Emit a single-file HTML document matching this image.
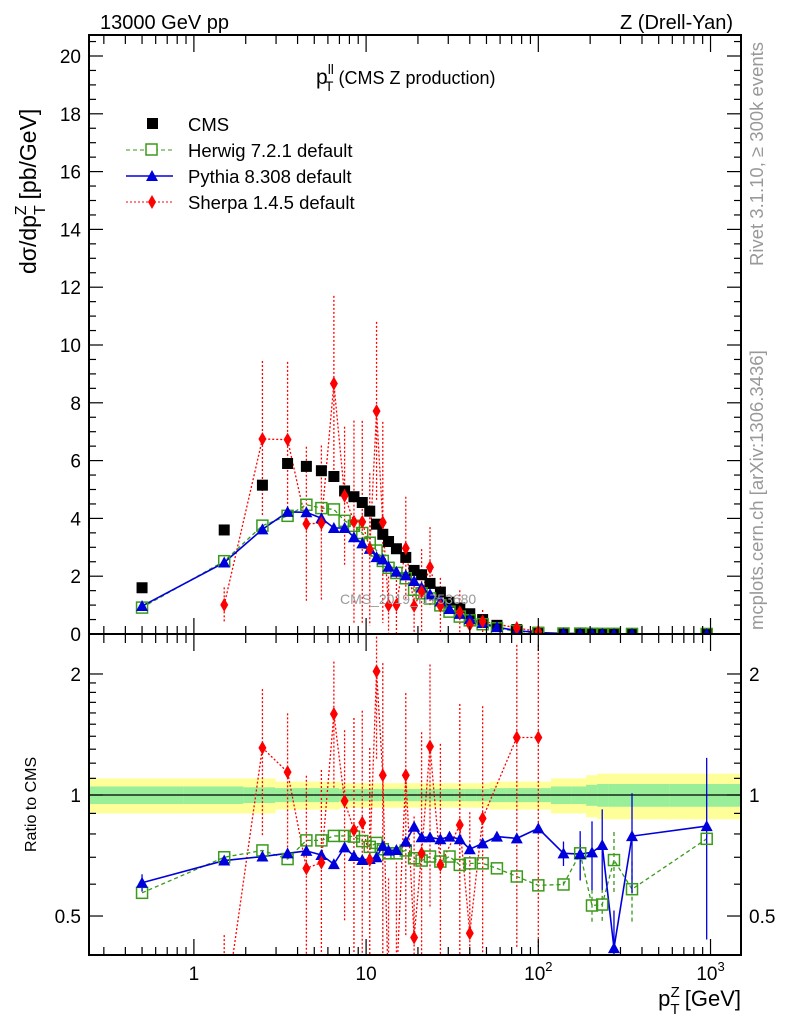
<!DOCTYPE html>
<html><head><meta charset="utf-8"><style>
html,body{margin:0;padding:0;background:#fff;width:786px;height:1024px;overflow:hidden;}
svg{display:block;font-family:"Liberation Sans",Arial,sans-serif;}
</style></head><body>
<svg id="plot" width="786" height="1024" viewBox="0 0 786 1024" xmlns="http://www.w3.org/2000/svg">
<defs>
<clipPath id="cMain"><rect x="89" y="35" width="652" height="599"/></clipPath>
<clipPath id="cRat"><rect x="89" y="634" width="652" height="321"/></clipPath>
</defs>
<g id="bands" clip-path="url(#cRat)"></g>
<g id="marks"></g>
<rect x="89" y="35" width="652" height="599" fill="none" stroke="#000" stroke-width="2"/>
<rect x="89" y="634" width="652" height="321" fill="none" stroke="#000" stroke-width="2"/>
<g id="ticks" stroke="#000" stroke-width="1.2"></g>
<g id="labels" font-size="19"></g>
<text x="100" y="29" font-size="20">13000 GeV pp</text>
<text x="733" y="29" font-size="20" text-anchor="end">Z (Drell-Yan)</text>
<text x="316" y="84" font-size="21">p<tspan font-size="14" dy="-10">ll</tspan><tspan font-size="14" dx="-9" dy="17">T</tspan><tspan font-size="18" dy="-7" dx="5">(CMS Z production)</tspan></text>
<text x="340" y="604" font-size="14" fill="#999">CMS_2019_I1753680</text>
<text transform="translate(36,274) rotate(-90)" font-size="23">dσ/dp<tspan font-size="16" dy="9">T</tspan><tspan font-size="16" dy="-19" dx="-10">Z</tspan><tspan dy="10" dx="6">[pb/GeV]</tspan></text>
<text transform="translate(36,852) rotate(-90)" font-size="16">Ratio to CMS</text>
<text transform="translate(763,266) rotate(-90)" font-size="18.5" fill="#999">Rivet 3.1.10, ≥ 300k events</text>
<text transform="translate(763,630) rotate(-90)" font-size="18.5" fill="#999">mcplots.cern.ch [arXiv:1306.3436]</text>
<text x="741" y="1006" font-size="22" text-anchor="end">p<tspan font-size="15" dy="8">T</tspan><tspan font-size="15" dy="-17" dx="-9">Z</tspan><tspan dy="9" dx="5">[GeV]</tspan></text>
<g id="legend" font-size="18.5">
<g><rect x="147" y="118" width="11" height="11" fill="#000"/><text x="188" y="131">CMS</text></g>
<g><line x1="126" x2="173" y1="150" y2="150" stroke="#3a9a1a" stroke-dasharray="4,3"/><rect x="146" y="144" width="11" height="11" fill="#fff" stroke="#3a9a1a" stroke-width="1.5"/><text x="188" y="157">Herwig 7.2.1 default</text></g>
<g><line x1="126" x2="173" y1="176" y2="176" stroke="#0000dd" stroke-width="1.5"/><polygon points="152,170 158,181 146,181" fill="#0000dd"/><text x="188" y="183">Pythia 8.308 default</text></g>
<g><line x1="126" x2="173" y1="202" y2="202" stroke="#f00" stroke-dasharray="2,2"/><polygon points="152,195 156,202 152,209 148,202" fill="#f00"/><text x="188" y="209">Sherpa 1.4.5 default</text></g>
</g>
</svg>
<script>
const bins=[0.5,1.5,2.5,3.5,4.5,5.5,6.5,7.5,8.5,9.5,10.5,11.5,12.5,13.5,15,17,19,21,23.5,27,30.5,35,40,47.5,57.5,75,100,140,175,205,235,275,350,950];
const cmsVals=[1.6,3.6,5.15,5.9,5.8,5.65,5.45,4.95,4.75,4.55,4.25,3.8,3.45,3.2,2.95,2.65,2.2,2.05,1.75,1.45,1.1,0.9,0.7,0.5,0.3,0.15,0.06,0.03,0.02,0.015,0.01,0.008,0.005,0.001];
const herwigRatio=[0.571,0.700,0.728,0.693,0.771,0.771,0.791,0.791,0.788,0.768,0.743,0.760,0.733,0.716,0.716,0.728,0.696,0.687,0.703,0.683,0.703,0.670,0.676,0.676,0.657,0.627,0.596,0.599,0.716,0.531,0.534,0.689,0.583,0.778];
const herwigErr=[0,0,0,0,0,0,0,0,0,0,0,0,0,0,0,0,0,0,0,0,0,0,0,0,0,0,0,0.01,0.04,0.05,0.05,0.12,0.1,0.02];
const pythiaRatio=[0.605,0.687,0.703,0.716,0.726,0.709,0.673,0.741,0.705,0.689,0.693,0.700,0.747,0.727,0.730,0.765,0.834,0.785,0.785,0.776,0.788,0.776,0.733,0.758,0.788,0.780,0.826,0.716,0.713,0.720,0.751,0.416,0.790,0.837];
const pythiaErr=[0.03,0.01,0.01,0.01,0.01,0.01,0.01,0.01,0.01,0.01,0.01,0.01,0.01,0.01,0.01,0.01,0.01,0.01,0.01,0.01,0.01,0.01,0.01,0.01,0.01,0.01,0.02,0.05,0.1,0.14,0.17,0.1,0.22,0.4];
const sherpaRatio=[null,0.28,1.31,1.14,0.657,0.679,1.59,0.966,0.818,0.853,0.689,2.03,1.12,0.31,0.34,1.12,0.442,0.716,1.32,0.67,null,0.842,0.453,0.875,null,1.39,1.39,null,null,null,null,null,null,null];
const sherpaRelErr=[0,0.6,0.4,0.4,0.7,0.7,0.35,0.5,0.9,0.9,0.9,0.4,0.9,1,1,0.6,1,1,0.6,1,0,1,1,0.9,0,0.7,0.7,0,0,0,0,0,0,0];
const bandTot=[0.10,0.10,0.10,0.08,0.08,0.08,0.08,0.07,0.07,0.07,0.07,0.07,0.07,0.07,0.07,0.07,0.07,0.07,0.07,0.07,0.07,0.07,0.07,0.07,0.08,0.08,0.08,0.10,0.10,0.12,0.13,0.13,0.13,0.13];
const bandStat=[0.05,0.05,0.045,0.04,0.04,0.04,0.04,0.035,0.035,0.035,0.035,0.035,0.035,0.035,0.035,0.035,0.035,0.035,0.035,0.035,0.035,0.035,0.035,0.035,0.04,0.04,0.04,0.05,0.05,0.06,0.065,0.065,0.065,0.065];
const yMainTicks=[0,2,4,6,8,10,12,14,16,18,20];
const ratioTickLabels=[0.5,1,2];

const NS="http://www.w3.org/2000/svg";
const X0=89,X1=741,LMIN=Math.log10(0.246),LMAX=Math.log10(1503);
function xs(v){return X0+(Math.log10(v)-LMIN)/(LMAX-LMIN)*(X1-X0);}
function ym(v){return 634-v*28.9;}
function yr(r){return 795-402*Math.log10(r);}
function mk(p,tag,at){const e=document.createElementNS(NS,tag);for(const k in at)e.setAttribute(k,at[k]);p.appendChild(e);return e;}
const marks=document.getElementById('marks');
const gMain=mk(marks,'g',{'clip-path':'url(#cMain)'});
const gRat=mk(marks,'g',{'clip-path':'url(#cRat)'});

const bandG=document.getElementById('bands');
const edges=[0.246];
for(let i=0;i<bins.length-1;i++)edges.push(Math.sqrt(bins[i]*bins[i+1]));
edges.push(1503);
bins.forEach((b,i)=>{
  const xa=xs(edges[i]),xb=xs(edges[i+1]);
  const y1=mk(bandG,'rect',{x:xa,y:yr(1+bandTot[i]),width:xb-xa+0.5,height:yr(1-bandTot[i])-yr(1+bandTot[i]),fill:'#ffff99'});
  
  
  const g1=mk(bandG,'rect',{x:xa,y:yr(1+bandStat[i]),width:xb-xa+0.5,height:yr(1-bandStat[i])-yr(1+bandStat[i]),fill:'#99ee99'});
  
  
});
const ref=mk(gRat,'line',{x1:X0,x2:X1,y1:yr(1),y2:yr(1),stroke:'#000','stroke-width':1.2});



function series(g,vals,fy,color,dash,width,name){
  let d='';vals.forEach((v,i)=>{if(v==null||v<=0)return;d+=(d?'L':'M')+xs(bins[i])+','+fy(v);});
  const p=mk(g,'path',{d:d,fill:'none',stroke:color,'stroke-width':width});
  if(dash)p.setAttribute('stroke-dasharray',dash);
  
  
}
function sq(g,x,y,fill,name){const e=mk(g,'rect',{x:x-5.5,y:y-5.5,width:11,height:11,fill:fill,stroke:fill=='#000'?'none':'#3a9a1a','stroke-width':1.5});}
function tri(g,x,y,name){const e=mk(g,'polygon',{points:`${x},${y-6} ${x+6},${y+5} ${x-6},${y+5}`,fill:'#0000dd'});}
function dia(g,x,y,name){const e=mk(g,'polygon',{points:`${x},${y-7} ${x+4},${y} ${x},${y+7} ${x-4},${y}`,fill:'#f00'});}
function eb(g,x,ya,yb,color,dash){const e=mk(g,'line',{x1:x,x2:x,y1:ya,y2:yb,stroke:color,'stroke-width':1.3});if(dash)e.setAttribute('stroke-dasharray',dash);}

const herM=herwigRatio.map((r,i)=>r*cmsVals[i]);
const pyM=pythiaRatio.map((r,i)=>r*cmsVals[i]);
const shM=sherpaRatio.map((r,i)=>r==null?null:r*cmsVals[i]);

series(gMain,shM,ym,'#f00','2,2',1.3,'sherpa-line');
shM.forEach((v,i)=>{if(v==null)return;const e=sherpaRelErr[i]*v;eb(gMain,xs(bins[i]),ym(v+e),ym(Math.max(v-e,-1)),'#f00','2,2');});
series(gMain,herM,ym,'#3a9a1a','4,3',1.3,'herwig-line');
series(gMain,pyM,ym,'#0000dd',null,1.6,'pythia-line');
cmsVals.forEach((v,i)=>sq(gMain,xs(bins[i]),ym(v),'#000','cms-point'));
herM.forEach((v,i)=>sq(gMain,xs(bins[i]),ym(v),'none','herwig-point'));
pyM.forEach((v,i)=>tri(gMain,xs(bins[i]),ym(v),'pythia-point'));
shM.forEach((v,i)=>{if(v!=null)dia(gMain,xs(bins[i]),ym(v),'sherpa-point');});

series(gRat,sherpaRatio,yr,'#f00','2,2',1.3,'sherpa-ratio-line');
sherpaRatio.forEach((v,i)=>{if(v==null)return;const e=sherpaRelErr[i]*v;eb(gRat,xs(bins[i]),yr(v+e),yr(Math.max(v-e,0.05)),'#f00','2,2');});
series(gRat,herwigRatio,yr,'#3a9a1a','4,3',1.3,'herwig-ratio-line');
herwigRatio.forEach((v,i)=>{if(herwigErr[i]>0)eb(gRat,xs(bins[i]),yr(v+herwigErr[i]),yr(v-herwigErr[i]),'#3a9a1a','4,3');});
series(gRat,pythiaRatio,yr,'#0000dd',null,1.6,'pythia-ratio-line');
pythiaRatio.forEach((v,i)=>{if(pythiaErr[i]>0)eb(gRat,xs(bins[i]),yr(v+pythiaErr[i]),yr(Math.max(v-pythiaErr[i],0.05)),'#0000dd',null);});
herwigRatio.forEach((v,i)=>sq(gRat,xs(bins[i]),yr(v),'none','herwig-ratio-point'));
pythiaRatio.forEach((v,i)=>tri(gRat,xs(bins[i]),yr(v),'pythia-ratio-point'));
sherpaRatio.forEach((v,i)=>{if(v!=null)dia(gRat,xs(bins[i]),yr(v),'sherpa-ratio-point');});

const T=document.getElementById('ticks');
function tk(x1,y1,x2,y2){mk(T,'line',{x1,y1,x2,y2});}
for(let v=0;v<=20.5;v+=0.5){const y=ym(v);if(y<36)continue;const L=(v%2==0)?14:7;tk(X0,y,X0+L,y);tk(X1,y,X1-L,y);}
for(let d=-1;d<=3;d++)for(let m=1;m<10;m++){const v=m*Math.pow(10,d);const x=xs(v);if(x<X0+1||x>X1-1)continue;const L=m==1?16:8;
  tk(x,634,x,634-L);tk(x,36,x,36+L);tk(x,955,x,955-L);tk(x,635,x,635+L);}
const rt=[0.4,0.5,0.6,0.7,0.8,0.9,1,1.1,1.2,1.3,1.4,1.5,1.6,1.7,1.8,1.9,2,2.5];
rt.forEach(v=>{const y=yr(v);if(y<636||y>954)return;const L=ratioTickLabels.includes(v)?14:7;tk(X0,y,X0+L,y);tk(X1,y,X1-L,y);});

const Lb=document.getElementById('labels');
yMainTicks.forEach(v=>{const t=mk(Lb,'text',{x:81,y:ym(v)+7,'text-anchor':'end'});t.textContent=v;
  
  });
ratioTickLabels.forEach(v=>{[[81,'end'],[749,'start']].forEach(([x,a])=>{const t=mk(Lb,'text',{x:x,y:yr(v)+7,'text-anchor':a});t.textContent=v;
  
  });});
[[1,'1'],[10,'10'],[100,'10'],[1000,'10']].forEach(([v,s],i)=>{const t=mk(Lb,'text',{x:xs(v),y:980,'text-anchor':'middle'});t.textContent=s;
  if(i>=2){const sp=mk(t,'tspan',{'font-size':13,dy:-9});sp.textContent=i==2?'2':'3';}
  
  });
</script>
</body></html>
